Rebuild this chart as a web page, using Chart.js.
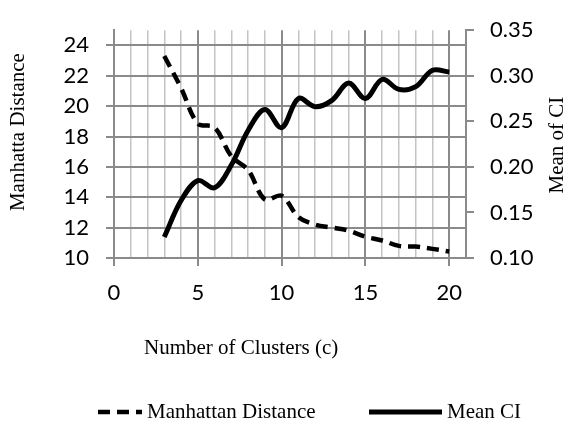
<!DOCTYPE html>
<html>
<head>
<meta charset="utf-8">
<script src="https://cdn.jsdelivr.net/npm/chart.js@4"></script>
<style>
  html, body { margin: 0; padding: 0; background: #fff; }
</style>
</head>
<body>
<canvas id="chart" width="571" height="422"></canvas>
<script>
const clusters = [3, 4, 5, 6, 7, 8, 9, 10, 11, 12, 13, 14, 15, 16, 17, 18, 19, 20];
const manhattan = [23.3, 21.2, 18.85, 18.6, 16.7, 15.8, 13.85, 14.1, 12.7, 12.2, 12.0, 11.8, 11.4, 11.15, 10.8, 10.75, 10.6, 10.43];
const meanCI = [0.123, 0.163, 0.185, 0.177, 0.202, 0.240, 0.263, 0.243, 0.275, 0.266, 0.273, 0.292, 0.275, 0.296, 0.285, 0.288, 0.306, 0.304];

const xTicks = [0, 1, 2, 3, 4, 5, 6, 7, 8, 9, 10, 11, 12, 13, 14, 15, 16, 17, 18, 19, 20, 21];
const leftTicks = [10, 12, 14, 16, 18, 20, 22, 24];
const rightTicks = [0.10, 0.15, 0.20, 0.25, 0.30, 0.35];

const xTitle = "Number of Clusters (c)";
const leftTitle = "Manhatta Distance";
const rightTitle = "Mean of CI";

const tickFont = { family: "Lato", size: 22 };
const serif = "21px 'Liberation Serif'";
const darkGrid = "#8a8a8a";
const lightGrid = "#c4c4c4";

// axis titles and legend drawn by hand (right title reads bottom-to-top, legend spacing is uneven)
const extras = {
  id: "extras",
  afterDraw(chart) {
    const ctx = chart.ctx;
    const area = chart.chartArea;
    const midY = (area.top + area.bottom) / 2;
    ctx.save();
    ctx.fillStyle = "#000";
    ctx.font = serif;
    ctx.textBaseline = "middle";
    ctx.textAlign = "center";

    ctx.save();
    ctx.translate(18, midY - 12);
    ctx.rotate(-Math.PI / 2);
    ctx.fillText(leftTitle, 0, 0);
    ctx.restore();

    ctx.save();
    ctx.translate(557, midY + 1);
    ctx.rotate(-Math.PI / 2);
    ctx.fillText(rightTitle, 0, 0);
    ctx.restore();

    ctx.textAlign = "left";
    ctx.fillText(xTitle, area.left + 30, area.bottom + 90);

    // legend
    const items = [
      { ds: chart.data.datasets[0], x0: area.left - 16, x1: area.left + 28 },
      { ds: chart.data.datasets[1], x0: area.left + 255, x1: area.left + 328 },
    ];
    const ly = 412;
    items.forEach((it) => {
      ctx.save();
      ctx.strokeStyle = it.ds.borderColor;
      ctx.lineWidth = it.ds.borderWidth;
      ctx.setLineDash(it.ds.borderDash || []);
      ctx.beginPath();
      ctx.moveTo(it.x0, ly);
      ctx.lineTo(it.x1, ly);
      ctx.stroke();
      ctx.restore();
      ctx.fillText(it.ds.label, it.x1 + 5, ly);
    });
    ctx.restore();
  },
};

const ctx = document.getElementById("chart").getContext("2d");
const myChart = new Chart(ctx, {
  type: "line",
  data: {
    datasets: [
      {
        label: "Manhattan Distance",
        data: clusters.map((c, i) => ({ x: c, y: manhattan[i] })),
        yAxisID: "y",
        borderColor: "#000",
        borderWidth: 4.5,
        borderDash: [12, 7],
        pointRadius: 0,
        tension: 0.35,
        fill: false,
      },
      {
        label: "Mean CI",
        data: clusters.map((c, i) => ({ x: c, y: meanCI[i] })),
        yAxisID: "y1",
        borderColor: "#000",
        borderWidth: 5,
        pointRadius: 0,
        tension: 0.35,
        fill: false,
      },
    ],
  },
  options: {
    responsive: false,
    animation: false,
    layout: { padding: { top: 25, left: 0, right: 0, bottom: 0 } },
    plugins: {
      legend: { display: false },
      tooltip: { enabled: false },
    },
    scales: {
      x: {
        type: "linear",
        min: 0,
        max: 21,
        afterBuildTicks: (s) => { s.ticks = xTicks.map((v) => ({ value: v })); },
        afterFit: (s) => { s.height = 164; },
        grid: {
          color: (c) => (c.tick && c.tick.value % 5 === 0 ? darkGrid : lightGrid),
          lineWidth: (c) => (c.tick && c.tick.value % 5 === 0 ? 2 : 1.5),
          tickColor: (c) => (c.tick && c.tick.value % 5 === 0 && c.tick.value <= 20 ? darkGrid : "rgba(0,0,0,0)"),
          tickLength: 8,
        },
        border: { color: darkGrid, width: 2 },
        ticks: {
          autoSkip: false,
          maxRotation: 0,
          padding: 14,
          color: "#000",
          font: tickFont,
          callback: (v) => (v % 5 === 0 && v <= 20 ? v : ""),
        },
      },
      y: {
        position: "left",
        min: 10,
        max: 25,
        afterBuildTicks: (s) => { s.ticks = leftTicks.map((v) => ({ value: v })); },
        afterFit: (s) => { s.width = 114; },
        grid: { color: darkGrid, lineWidth: 2, tickLength: 8 },
        border: { color: darkGrid, width: 2 },
        ticks: { padding: 17, color: "#000", font: tickFont },
      },
      y1: {
        position: "right",
        min: 0.1,
        max: 0.35,
        afterBuildTicks: (s) => { s.ticks = rightTicks.map((v) => ({ value: v })); },
        afterFit: (s) => { s.width = 105; },
        grid: { drawOnChartArea: false, color: darkGrid, lineWidth: 2, tickLength: 8 },
        border: { color: darkGrid, width: 2 },
        ticks: {
          padding: 16,
          color: "#000",
          font: tickFont,
          callback: (v) => v.toFixed(2),
        },
      },
    },
  },
  plugins: [extras],
});
</script>
</body>
</html>
